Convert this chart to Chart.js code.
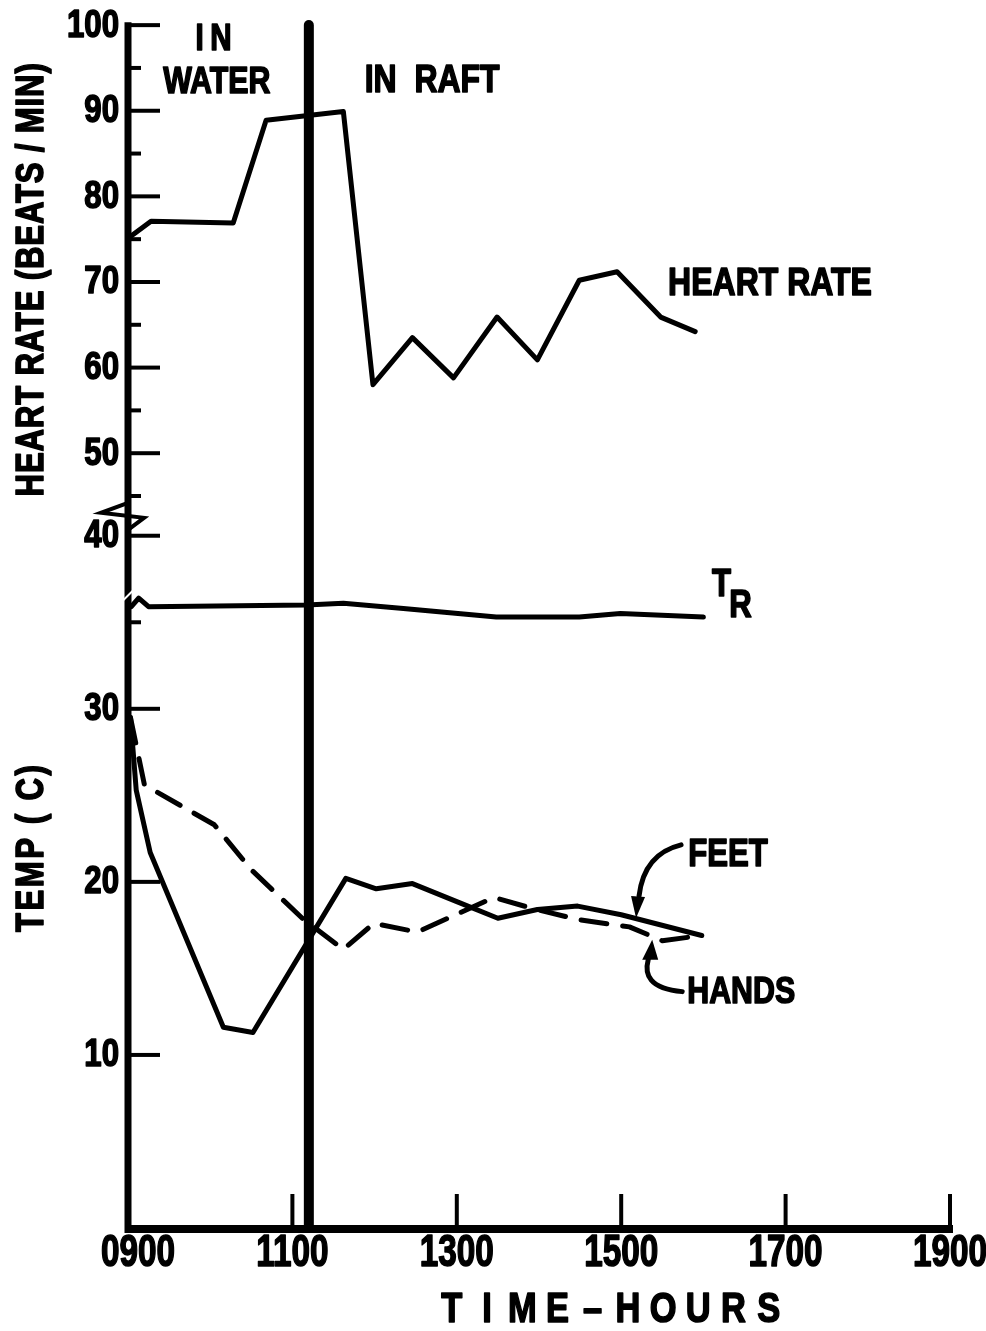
<!DOCTYPE html>
<html>
<head>
<meta charset="utf-8">
<script src="https://cdn.jsdelivr.net/npm/chart.js@4.4.0/dist/chart.umd.min.js"></script>
<style>
  body { margin: 0; background: #fff; }
  #wrap { width: 986px; height: 1331px; }
</style>
</head>
<body>
<div id="wrap"><canvas id="myChart" width="986" height="1331"></canvas></div>
<script>
// time in decimal hours (9 = 0900)
const hrTime  = [9.03, 9.28, 10.28, 10.68, 11.62, 11.98, 12.46, 12.96, 13.49, 13.98, 14.49, 14.95, 15.48, 15.9];
const hrValue = [75.3, 77.1, 76.9, 88.9, 89.9, 58.0, 63.5, 58.8, 65.9, 60.9, 70.2, 71.2, 65.9, 64.2];

const trTime  = [9.04, 9.13, 9.25, 11.17, 11.62, 12.35, 13.48, 14.05, 14.49, 14.99, 16.0];
const trValue = [35.9, 36.4, 35.9, 36.0, 36.1, 35.8, 35.3, 35.3, 35.3, 35.5, 35.3];

const feetTime  = [9.03, 9.1, 9.27, 10.16, 10.52, 11.65, 12.02, 12.46, 13.03, 13.5, 13.98, 14.47, 15.0, 15.98];
const feetValue = [29.5, 25.3, 21.7, 11.6, 11.3, 20.2, 19.6, 19.9, 18.8, 17.9, 18.4, 18.6, 18.1, 16.9];

const handsTime  = [9.03, 9.2, 10.05, 10.5, 11.12, 11.62, 11.99, 12.52, 13.45, 13.97, 14.5, 15.1, 15.5, 15.98];
const handsValue = [29.5, 25.6, 23.3, 20.7, 17.9, 16.1, 17.6, 17.1, 19.1, 18.4, 17.8, 17.4, 16.6, 16.9];

const raftTime = 11.2; // moved from water to raft

const timeTicks  = [9, 11, 13, 15, 17, 19];
const timeLabels = ["0900", "1100", "1300", "1500", "1700", "1900"];
const tempTicks  = [10, 20, 30, 35, 40];
const hrTicks    = [45, 50, 55, 60, 65, 70, 75, 80, 85, 90, 95, 100];

// the two y ranges share one plot (broken axis)
const tempMin = 0, tempMax = 69.8;
const hrMin = -40.5, hrMax = 100.6;

const FONT = '"Liberation Sans", Arimo, "DejaVu Sans", sans-serif';

function pts(xs, ys) {
  return xs.map((t, i) => ({ x: t, y: ys[i] }));
}
function hrToTemp(h) {
  return tempMin + (h - hrMin) / (hrMax - hrMin) * (tempMax - tempMin);
}

function line(ctx, x1, y1, x2, y2) {
  ctx.beginPath();
  ctx.moveTo(x1, y1);
  ctx.lineTo(x2, y2);
  ctx.stroke();
}

// bold text squeezed sideways, like the narrow lettering of the original
function narrow(ctx, s, x, y, size, align, squeeze, spacing) {
  ctx.save();
  ctx.translate(x, y);
  ctx.scale(squeeze || 0.8, 1);
  ctx.font = "bold " + size + "px " + FONT;
  ctx.letterSpacing = (spacing || 0) + "px";
  ctx.textAlign = align || "center";
  ctx.textBaseline = "middle";
  ctx.lineWidth = 1.6;
  ctx.lineJoin = "round";
  ctx.fillText(s, 0, 0);
  ctx.strokeText(s, 0, 0);
  ctx.restore();
}

const decorations = {
  id: "decorations",
  afterDatasetsDraw(chart) {
    const ctx = chart.ctx;
    const a = chart.chartArea;
    const xs = chart.scales.x, ys = chart.scales.y, hs = chart.scales.hr;
    ctx.save();
    ctx.strokeStyle = "#000";
    ctx.fillStyle = "#000";

    // raft line
    const rx = xs.getPixelForValue(raftTime);
    ctx.lineWidth = 10;
    ctx.lineCap = "round";
    line(ctx, rx, a.top + 5, rx, a.bottom);

    // axes
    ctx.lineCap = "butt";
    ctx.lineWidth = 7;
    line(ctx, a.left, hs.getPixelForValue(100) - 3, a.left, a.bottom + 5);
    ctx.lineWidth = 8;
    line(ctx, a.left - 3, a.bottom + 1, xs.getPixelForValue(19) + 3, a.bottom + 1);

    // y tick marks (point inward) and labels
    ys.ticks.forEach(t => {
      const y = ys.getPixelForValue(t.value);
      ctx.lineWidth = 4;
      line(ctx, a.left, y, a.left + (t.txt ? 32 : 13), y);
      if (t.txt) narrow(ctx, t.txt, a.left - 9, y + 1, 38, "right", 0.82);
    });
    // x tick marks and labels
    xs.ticks.forEach((t, i) => {
      const x = xs.getPixelForValue(t.value);
      ctx.lineWidth = 4;
      if (i > 0) line(ctx, x, a.bottom, x, a.bottom - 34);
      narrow(ctx, timeLabels[i], x + (i === 0 ? 10 : 0), a.bottom + 26, 45, "center", 0.74);
    });

    // axis break
    const yb = hs.getPixelForValue(42.8);
    ctx.lineWidth = 4;
    ctx.lineJoin = "miter";
    ctx.beginPath();
    ctx.moveTo(a.left, yb - 12);
    ctx.lineTo(a.left - 27, yb - 2);
    ctx.lineTo(a.left + 16, yb + 3);
    ctx.lineTo(a.left, yb + 15);
    ctx.stroke();
    const yw = ys.getPixelForValue(36.6);
    ctx.strokeStyle = "#fff";
    ctx.lineWidth = 2;
    line(ctx, a.left - 5, yw + 6, a.left + 6, yw - 5);
    ctx.strokeStyle = "#000";

    // annotations
    const note = (s, t, v, scale, size, spacing) =>
      narrow(ctx, s, xs.getPixelForValue(t), scale.getPixelForValue(v), size, "center", 0.82, spacing);
    note("IN", 10.08, 98.3, hs, 36, 8);
    note("WATER", 10.08, 93.3, hs, 37);
    note("IN  RAFT", 12.7, 93.4, hs, 39);
    note("HEART RATE", 16.81, 69.7, hs, 39);
    note("T", 16.22, 37.1, ys, 38);
    note("R", 16.45, 35.9, ys, 38);
    note("FEET", 16.3, 21.5, ys, 38);
    note("HANDS", 16.46, 13.6, ys, 37);

    // arrows to FEET / HANDS
    const fx = xs.getPixelForValue(16.3), fy = ys.getPixelForValue(21.5);
    ctx.lineWidth = 5;
    ctx.lineCap = "round";
    ctx.beginPath();
    ctx.moveTo(fx - 47, fy - 11);
    ctx.quadraticCurveTo(fx - 84, fy - 2, fx - 89, fy + 40);
    ctx.stroke();
    ctx.beginPath();
    ctx.moveTo(fx - 97, fy + 40);
    ctx.lineTo(fx - 83, fy + 41);
    ctx.lineTo(fx - 92, fy + 62);
    ctx.closePath();
    ctx.fill();

    const hx = xs.getPixelForValue(16.46), hy = ys.getPixelForValue(13.6);
    ctx.beginPath();
    ctx.moveTo(hx - 59, hy - 1);
    ctx.bezierCurveTo(hx - 92, hy - 4, hx - 97, hy - 18, hx - 93, hy - 33);
    ctx.stroke();
    ctx.beginPath();
    ctx.moveTo(hx - 99, hy - 33);
    ctx.lineTo(hx - 83, hy - 33);
    ctx.lineTo(hx - 89, hy - 53);
    ctx.closePath();
    ctx.fill();

    // axis titles
    ctx.save();
    ctx.translate(33, hs.getPixelForValue(70.3));
    ctx.rotate(-Math.PI / 2);
    narrow(ctx, "HEART RATE (BEATS / MIN)", 0, 0, 38, "center", 0.82, 1);
    ctx.restore();
    ctx.save();
    ctx.translate(33, ys.getPixelForValue(22.0));
    ctx.rotate(-Math.PI / 2);
    narrow(ctx, "TEMP ( C)", 0, 0, 38, "center", 0.82, 3);
    ctx.restore();

    // x title, letter spaced
    const title = "TIME–HOURS";
    const x0 = xs.getPixelForValue(12.94);
    for (let i = 0; i < title.length; i++) {
      narrow(ctx, title[i], x0 + i * 35.2, a.bottom + 82, 42, "center", 0.82);
    }
    ctx.restore();
  }
};

const yTickList = tempTicks.map(v => ({ value: v, txt: v % 10 === 0 ? String(v) : "" }))
  .concat(hrTicks.map(h => ({ value: hrToTemp(h), txt: h % 10 === 0 ? String(h) : "" })));

const lineStyle = {
  borderColor: "#000",
  backgroundColor: "#000",
  borderWidth: 5,
  pointRadius: 0,
  tension: 0,
  fill: false,
  borderCapStyle: "round",
  borderJoinStyle: "round"
};

new Chart("myChart", {
  type: "line",
  data: {
    datasets: [
      Object.assign({ label: "heart rate", data: pts(hrTime, hrValue), yAxisID: "hr" }, lineStyle),
      Object.assign({ label: "TR", data: pts(trTime, trValue), yAxisID: "y" }, lineStyle),
      Object.assign({ label: "feet", data: pts(feetTime, feetValue), yAxisID: "y" }, lineStyle),
      Object.assign({ label: "hands", data: pts(handsTime, handsValue), yAxisID: "y", borderDash: [26, 16] }, lineStyle)
    ]
  },
  options: {
    responsive: false,
    animation: false,
    layout: { padding: { left: 0, right: 36, top: 20, bottom: 0 } },
    plugins: {
      colors: { enabled: false },
      legend: { display: false },
      tooltip: { enabled: false }
    },
    scales: {
      x: {
        type: "linear",
        min: 9,
        max: 19,
        grid: { display: false, drawTicks: false },
        border: { display: false },
        afterBuildTicks: s => { s.ticks = timeTicks.map(v => ({ value: v })); },
        afterFit: s => { s.height = 103; s.paddingLeft = 0; s.paddingRight = 0; },
        ticks: { display: false, autoSkip: false }
      },
      y: {
        type: "linear",
        min: tempMin,
        max: tempMax,
        grid: { display: false, drawTicks: false },
        border: { display: false },
        afterBuildTicks: s => { s.ticks = yTickList.map(t => Object.assign({}, t)); },
        afterFit: s => { s.width = 128; },
        ticks: { display: false, autoSkip: false }
      },
      hr: {
        type: "linear",
        display: false,
        min: hrMin,
        max: hrMax
      }
    }
  },
  plugins: [decorations]
});
</script>
</body>
</html>
